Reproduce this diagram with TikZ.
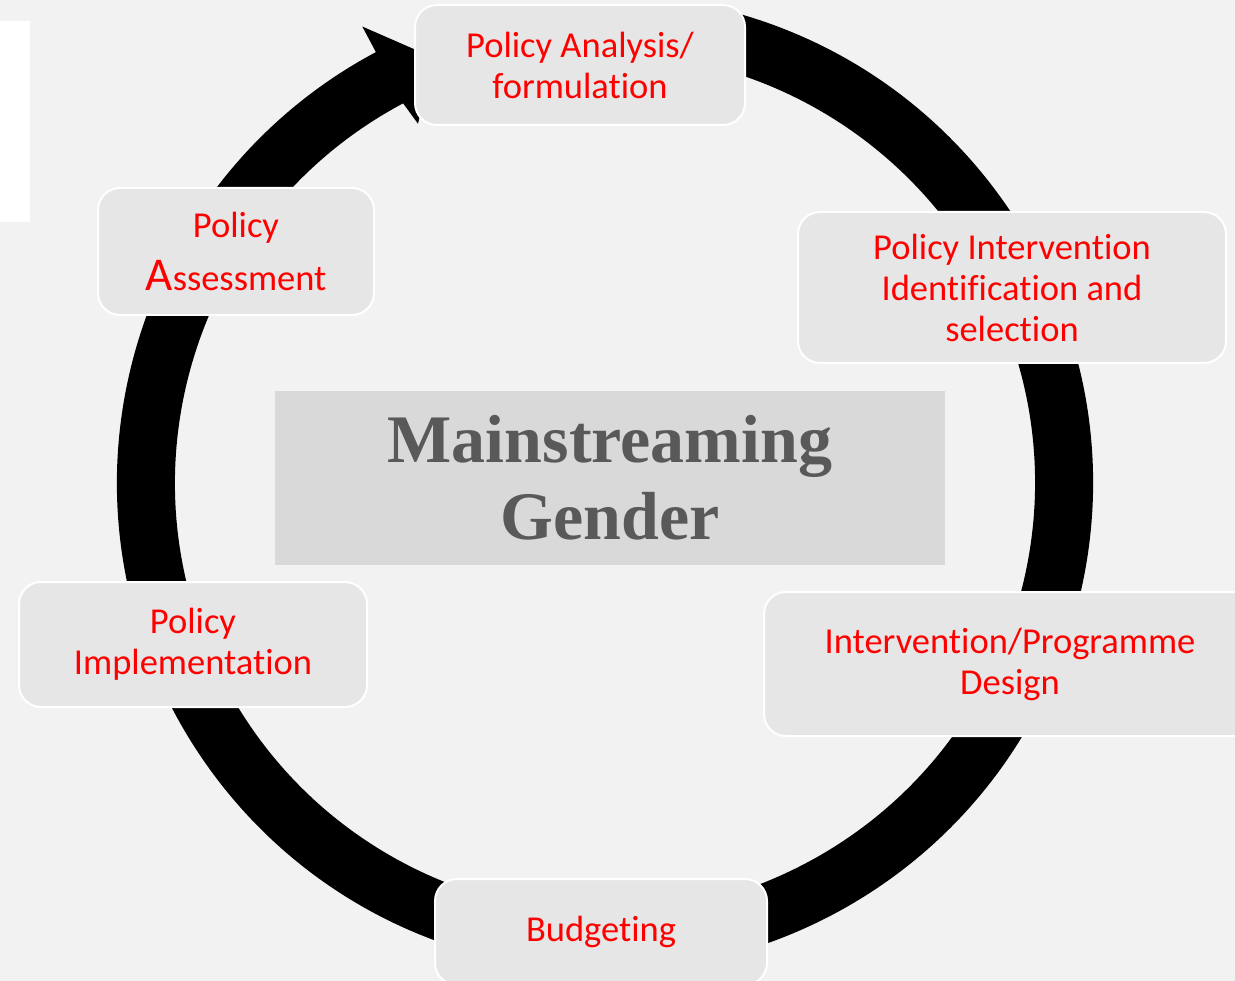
\documentclass[tikz,border=0pt]{standalone}
\usepackage{fontspec}
\setmainfont{Carlito}[Ligatures={NoCommon,NoRare}]
\newfontfamily\titlefont{Liberation Serif}
\usetikzlibrary{calc}
\definecolor{bg}{HTML}{F2F2F2}
\definecolor{boxfill}{HTML}{E6E6E6}
\definecolor{titlefill}{HTML}{D9D9D9}
\definecolor{titlegray}{HTML}{595959}
\definecolor{labelred}{HTML}{FF0000}
\begin{document}
\begin{tikzpicture}[x=1pt,y=-1pt,
  stagebox/.style={draw=white, line width=2pt, fill=boxfill, rounded corners=22pt,
    text=labelred, align=center, font=\fontsize{36.5}{41}\selectfont, inner sep=0pt},
  titlebox/.style={fill=titlefill, text=titlegray, align=center, inner sep=0pt,
    font=\titlefont\bfseries\fontsize{68}{77}\selectfont},
  ringstyle/.style={fill=black}]
\fill[bg] (0,0) rectangle (1235,981);
\useasboundingbox (0,0) rectangle (1235,981);
\fill[white] (0,21) rectangle (30,222);
\coordinate (c) at (605,483);
% circular arrow
\fill[ringstyle] ($(c)+(-75:488)$) arc[start angle=-75, end angle=242, radius=488]
  -- ($(c)+(242:517)$) -- ($(c)+(248:459)$) -- ($(c)+(242.5:405)$)
  -- ($(c)+(242:430)$) arc[start angle=242, end angle=-75, radius=430] -- cycle;
% centre
\node[titlebox, minimum width=670pt, minimum height=174pt] (title) at (610,478) {Mainstreaming\\Gender};
% stages
\node[stagebox, minimum width=330pt, minimum height=120pt] (analysis) at (580,65) {Policy Analysis/\\formulation};
\node[stagebox, minimum width=428pt, minimum height=151pt] (intervention) at (1012,287.5) {Policy Intervention\\Identification and\\selection};
\node[stagebox, minimum width=492pt, minimum height=144pt] (design) at (1010,664) {Intervention/Programme\\Design};
\node[stagebox, minimum width=332pt, minimum height=106pt] (budget) at (601,932) {Budgeting};
\node[stagebox, minimum width=348pt, minimum height=125pt] (impl) at (193,644.5) {Policy\\Implementation};
\node[stagebox, minimum width=276pt, minimum height=127pt] (assess) at (236,251.5) {Policy\\[12pt]{\fontsize{47}{50}\selectfont A}ssessment};
\end{tikzpicture}
\end{document}
